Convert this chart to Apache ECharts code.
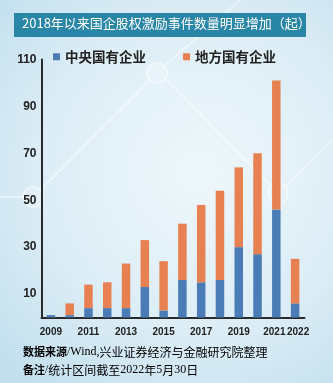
<!DOCTYPE html>
<html>
<head>
<meta charset="utf-8">
<script src="https://cdn.jsdelivr.net/npm/echarts@6/dist/echarts.min.js"></script>
<style>
html,body{margin:0;padding:0;}
#c{width:333px;height:383px;}
</style>
</head>
<body>
<div id="c"></div>
<script>
const years = ['2009','2010','2011','2012','2013','2014','2015','2016','2017','2018','2019','2020','2021','2022'];
const central = [1,1,4,4,4,13,3,16,15,16,30,27,46,6];
const local = [0,5,10,11,19,20,21,24,33,38,34,43,55,19];
const yTicks = [10,30,50,70,90,110];
const seriesNames = ['中央国有企业','地方国有企业'];
const titleText = '2018年以来国企股权激励事件数量明显增加（起）';

const chart = echarts.init(document.getElementById('c'), null, {renderer:'canvas'});
const deco = 'rgba(255,255,255,0.6)';
const xFont = '"Liberation Sans Narrow","Liberation Sans",Arial';
const xLabelStyle = {
  color:'#222', fontWeight:'bold', fontSize:10, margin:10,
  hideOverlap:false, showMinLabel:true, showMaxLabel:true,
  fontFamily:xFont
};
chart.setOption({
  animation:false,
  backgroundColor:{
    type:'radial', x:0.6, y:0.45, r:0.8,
    colorStops:[{offset:0,color:'#eef7fb'},{offset:0.6,color:'#dcedf6'},{offset:1,color:'#c3e0ee'}]
  },
  graphic:[
    {type:'polyline', silent:true, z:-1, shape:{points:[[0,197],[24,197]]}, style:{stroke:deco,lineWidth:1.5,fill:null}},
    {type:'circle', silent:true, z:-1, shape:{cx:33,cy:197,r:10}, style:{stroke:deco,lineWidth:1.5,fill:'rgba(255,255,255,0.2)'}},
    {type:'polyline', silent:true, z:-1, shape:{points:[[40,190],[150,80]]}, style:{stroke:deco,lineWidth:1.5,fill:null}},
    {type:'circle', silent:true, z:-1, shape:{cx:157,cy:73,r:10}, style:{stroke:deco,lineWidth:1.5,fill:'rgba(255,255,255,0.2)'}},
    {type:'polyline', silent:true, z:-1, shape:{points:[[165,78],[270,185]]}, style:{stroke:deco,lineWidth:1.2,fill:null}},
    {type:'circle', silent:true, z:-1, shape:{cx:278,cy:193,r:10}, style:{stroke:deco,lineWidth:1.5,fill:'rgba(255,255,255,0.15)'}},
    {type:'polyline', silent:true, z:-1, shape:{points:[[286,186],[333,140]]}, style:{stroke:deco,lineWidth:1.2,fill:null}},
    {type:'polyline', silent:true, z:-1, shape:{points:[[162,68],[240,0]]}, style:{stroke:deco,lineWidth:1.2,fill:null}},
    {type:'rect', silent:true, shape:{x:14,y:13,width:292,height:24}, style:{fill:'#2a86a6'}},
    {type:'text', silent:true, left:22, top:17, style:{text:titleText, fill:'#ffffff', font:'13px "Noto Sans CJK SC"'}},
    {type:'text', silent:true, left:23, top:346, style:{
      text:'{b|数据来源}{s|/Wind,}{r|兴业证券经济与金融研究院整理}',
      rich:{
        b:{fontFamily:'"Noto Sans CJK SC"', fontWeight:'bold', fontSize:11, color:'#1a1a1a'},
        s:{fontFamily:'"Liberation Serif"', fontSize:12, color:'#1a1a1a'},
        r:{fontFamily:'"Noto Sans CJK SC"', fontSize:12, color:'#1a1a1a'}
      }
    }},
    {type:'text', silent:true, left:23, top:364, style:{
      text:'{b|备注}{s|/}{r|统计区间截至}{s|2022}{r|年}{s|5}{r|月}{s|30}{r|日}',
      rich:{
        b:{fontFamily:'"Noto Sans CJK SC"', fontWeight:'bold', fontSize:11, color:'#1a1a1a'},
        s:{fontFamily:'"Liberation Serif"', fontSize:12, color:'#1a1a1a'},
        r:{fontFamily:'"Noto Sans CJK SC"', fontSize:12, color:'#1a1a1a'}
      }
    }}
  ],
  legend:{
    left:53, top:50, itemGap:37, itemWidth:7, itemHeight:7, padding:0,
    icon:'rect',
    data:seriesNames,
    textStyle:{fontSize:13.5, fontWeight:'bold', color:'#222', fontFamily:'"Noto Sans CJK SC"'}
  },
  grid:{left:41.5, top:59.5, width:263, bottom:65.5, containLabel:false},
  xAxis:[{
    type:'category',
    data:years,
    axisLine:{lineStyle:{color:'#2a2a2a', width:2}},
    axisTick:{show:false},
    axisLabel:Object.assign({}, xLabelStyle, {
      interval:function(i){return i%2===0;},
      formatter:function(v, i){return i===years.length-2 ? '{l|'+v+'}' : v;},
      rich:{l:{color:'#222', fontWeight:'bold', fontSize:10, fontFamily:xFont, padding:[0,4,0,0]}}
    })
  },{
    type:'category',
    data:years,
    position:'bottom',
    axisLine:{show:false},
    axisTick:{show:false},
    axisLabel:Object.assign({}, xLabelStyle, {
      interval:function(i){return i===years.length-1;},
      padding:[0,0,0,6]
    })
  }],
  yAxis:{
    type:'value', min:0, max:110, interval:10,
    axisLine:{show:true, lineStyle:{color:'#2a2a2a', width:2}},
    axisTick:{show:false},
    splitLine:{show:false},
    axisLabel:{
      formatter:function(v){return yTicks.indexOf(v)>=0 ? String(v) : '';},
      color:'#222', fontWeight:'bold', fontSize:12, margin:5,
      fontFamily:'"Liberation Sans",Arial'
    }
  },
  series:[
    {name:seriesNames[0], type:'bar', stack:'t', barWidth:8.5, data:central, itemStyle:{color:'#4a7db6'}},
    {name:seriesNames[1], type:'bar', stack:'t', barWidth:8.5, data:local, itemStyle:{color:'#e88152'}}
  ]
});
</script>
</body>
</html>
